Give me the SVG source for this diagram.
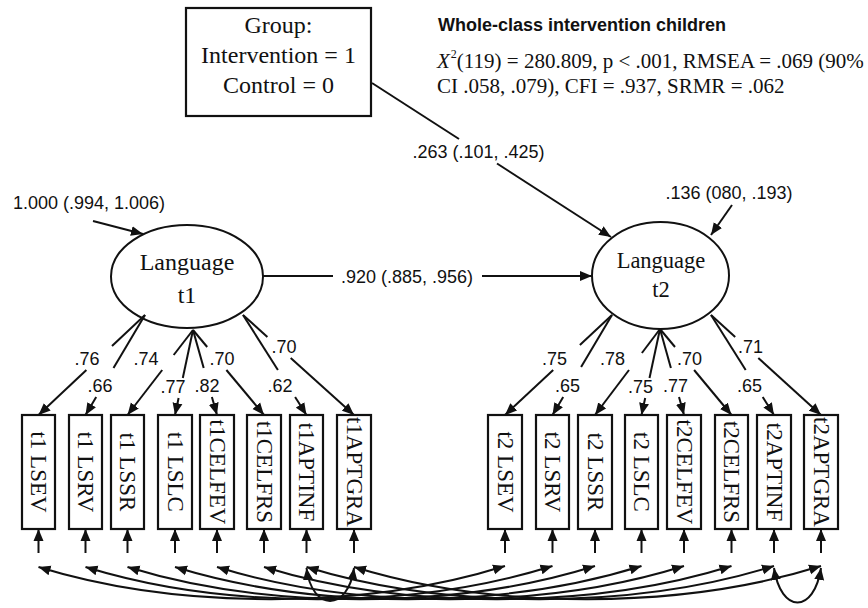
<svg xmlns="http://www.w3.org/2000/svg" width="868" height="608" viewBox="0 0 868 608">
<defs>
<marker id="ah" markerUnits="userSpaceOnUse" markerWidth="13" markerHeight="11" refX="12" refY="5" orient="auto-start-reverse" viewBox="0 0 13 10">
<path d="M0,0 L12,5 L0,10 z" fill="#111"/>
</marker>
</defs>
<style>
.ln{stroke:#111;stroke-width:2;fill:none}
.ar{stroke:#111;stroke-width:2;fill:none;marker-end:url(#ah)}
.cv{stroke:#111;stroke-width:2;fill:none;marker-start:url(#ah);marker-end:url(#ah)}
.box{fill:#fff;stroke:#111;stroke-width:2.2}
.ser{font-family:"Liberation Serif","Times New Roman",serif;fill:#111}
.san{font-family:"Liberation Sans",Arial,sans-serif;fill:#111;font-size:18px}
.ind{font-family:"Liberation Serif","Times New Roman",serif;fill:#111;font-size:23px;text-anchor:middle}
</style>
<rect width="868" height="608" fill="#fff"/>

<g id="header">
<text class="san" x="438" y="31" font-weight="bold">Whole-class intervention children</text>
<text class="ser" x="437" y="68" font-size="21"><tspan font-style="italic">X</tspan><tspan font-size="12" dx="1" dy="-10">2</tspan><tspan dy="10">(119) = 280.809, p &lt; .001, RMSEA = .069 (90%</tspan></text>
<text class="ser" x="437" y="93" font-size="21">CI .058, .079), CFI = .937, SRMR = .062</text>
</g>

<g id="group">
<rect class="box" x="186" y="8" width="185" height="108"/>
<text class="ser" font-size="24" text-anchor="middle" x="278.5" y="33">Group:</text>
<text class="ser" font-size="24" text-anchor="middle" x="278.5" y="63">Intervention = 1</text>
<text class="ser" font-size="24" text-anchor="middle" x="278.5" y="93">Control = 0</text>
</g>

<g id="lang_t1">
<ellipse cx="187" cy="276.5" rx="76" ry="51.5" fill="#fff" stroke="#111" stroke-width="2"/>
<text class="ser" font-size="24" text-anchor="middle" x="187" y="270">Language</text>
<text class="ser" font-size="24" text-anchor="middle" x="187" y="303">t1</text>
</g>

<g id="lang_t2">
<ellipse cx="660.5" cy="275.5" rx="68.5" ry="53.5" fill="#fff" stroke="#111" stroke-width="2"/>
<text class="ser" font-size="22.5" text-anchor="middle" x="661" y="268">Language</text>
<text class="ser" font-size="22.5" text-anchor="middle" x="661" y="297">t2</text>
</g>

<g id="indicators_t1">
<g id="t1LSEV"><rect class="box" x="22" y="415" width="33" height="114"/><text class="ind" transform="translate(31,472) rotate(90)">t1 LSEV</text></g>
<g id="t1LSRV"><rect class="box" x="69" y="415" width="33" height="114"/><text class="ind" transform="translate(78,472) rotate(90)">t1 LSRV</text></g>
<g id="t1LSSR"><rect class="box" x="111" y="415" width="33" height="114"/><text class="ind" transform="translate(120,472) rotate(90)">t1 LSSR</text></g>
<g id="t1LSLC"><rect class="box" x="158" y="415" width="34" height="114"/><text class="ind" transform="translate(167.5,472) rotate(90)">t1 LSLC</text></g>
<g id="t1CELFEV"><rect class="box" x="200" y="415" width="34" height="114"/><text class="ind" transform="translate(209.5,472) rotate(90)">t1CELFEV</text></g>
<g id="t1CELFRS"><rect class="box" x="247" y="415" width="34" height="114"/><text class="ind" transform="translate(256.5,472) rotate(90)">t1CELFRS</text></g>
<g id="t1APTINF"><rect class="box" x="290" y="415" width="33" height="114"/><text class="ind" transform="translate(299,472) rotate(90)">t1APTINF</text></g>
<g id="t1APTGRA"><rect class="box" x="337" y="415" width="34" height="114"/><text class="ind" transform="translate(346.5,472) rotate(90)">t1APTGRA</text></g>
</g>

<g id="indicators_t2">
<g id="t2LSEV"><rect class="box" x="488" y="415" width="34" height="114"/><text class="ind" transform="translate(497.5,472) rotate(90)">t2 LSEV</text></g>
<g id="t2LSRV"><rect class="box" x="536" y="415" width="33" height="114"/><text class="ind" transform="translate(545,472) rotate(90)">t2 LSRV</text></g>
<g id="t2LSSR"><rect class="box" x="578" y="415" width="34" height="114"/><text class="ind" transform="translate(587.5,472) rotate(90)">t2 LSSR</text></g>
<g id="t2LSLC"><rect class="box" x="625" y="415" width="33" height="114"/><text class="ind" transform="translate(634,472) rotate(90)">t2 LSLC</text></g>
<g id="t2CELFEV"><rect class="box" x="667" y="415" width="34" height="114"/><text class="ind" transform="translate(676.5,472) rotate(90)">t2CELFEV</text></g>
<g id="t2CELFRS"><rect class="box" x="715" y="415" width="33" height="114"/><text class="ind" transform="translate(724,472) rotate(90)">t2CELFRS</text></g>
<g id="t2APTINF"><rect class="box" x="757" y="415" width="34" height="114"/><text class="ind" transform="translate(766.5,472) rotate(90)">t2APTINF</text></g>
<g id="t2APTGRA"><rect class="box" x="804" y="415" width="34" height="114"/><text class="ind" transform="translate(813.5,472) rotate(90)">t2APTGRA</text></g>
</g>

<g id="connectors">
<path class="ln" d="M372,83 L459,139"/>
<path class="ar" d="M497,163.5 L611,237"/>
<path class="ln" d="M263,276 L333,276"/>
<path class="ar" d="M482,276 L592,276"/>
<path class="ar" d="M93,221 L143,234"/>
<path class="ar" d="M732,205 L711,235"/>
<path class="ln" d="M145,315 L112,346"/><path class="ar" d="M86.4,370 L38.5,415"/>
<path class="ln" d="M145,315 L113.5,368"/><path class="ar" d="M96.2,397 L85.5,415"/>
<path class="ln" d="M193,330 L173.7,355"/><path class="ar" d="M162.2,370 L127.5,415"/>
<path class="ln" d="M193,330 L182.8,378"/><path class="ar" d="M178.6,398 L175,415"/>
<path class="ln" d="M193,330 L203.7,368"/><path class="ar" d="M211.9,397 L217,415"/>
<path class="ln" d="M193,330 L207.2,347"/><path class="ar" d="M226.4,370 L264,415"/>
<path class="ln" d="M243,315 L277.9,370"/><path class="ar" d="M295.1,397 L306.5,415"/>
<path class="ln" d="M243,315 L267.4,337"/><path class="ar" d="M290.7,358 L354,415"/>
<path class="ln" d="M612,315 L579.9,345"/><path class="ar" d="M553.2,370 L505,415"/>
<path class="ln" d="M612,315 L581.1,367"/><path class="ar" d="M563.2,397 L552.5,415"/>
<path class="ln" d="M660,329 L641.9,353"/><path class="ar" d="M629,370 L595,415"/>
<path class="ln" d="M660,329 L649.5,378"/><path class="ar" d="M645.2,398 L641.5,415"/>
<path class="ln" d="M660,329 L670.9,368"/><path class="ar" d="M679,397 L684,415"/>
<path class="ln" d="M660,329 L675,347"/><path class="ar" d="M694.1,370 L731.5,415"/>
<path class="ln" d="M711,315 L745.7,370"/><path class="ar" d="M762.7,397 L774,415"/>
<path class="ln" d="M711,315 L735.2,337"/><path class="ar" d="M758.3,358 L821,415"/>
<path class="ar" d="M38.5,553 L38.5,529"/>
<path class="ar" d="M85.5,553 L85.5,529"/>
<path class="ar" d="M127.5,553 L127.5,529"/>
<path class="ar" d="M175,553 L175,529"/>
<path class="ar" d="M217,553 L217,529"/>
<path class="ar" d="M264,553 L264,529"/>
<path class="ar" d="M306.5,553 L306.5,529"/>
<path class="ar" d="M354,553 L354,529"/>
<path class="ar" d="M505,553 L505,529"/>
<path class="ar" d="M552.5,553 L552.5,529"/>
<path class="ar" d="M595,553 L595,529"/>
<path class="ar" d="M641.5,553 L641.5,529"/>
<path class="ar" d="M684,553 L684,529"/>
<path class="ar" d="M731.5,553 L731.5,529"/>
<path class="ar" d="M774,553 L774,529"/>
<path class="ar" d="M821,553 L821,529"/>
<path class="cv" d="M38.5,567 C178,610 365,610 505,566"/>
<path class="cv" d="M85.5,567 C225,610 412,610 552.5,566"/>
<path class="cv" d="M127.5,567 C267,610 455,610 595,566"/>
<path class="cv" d="M175,567 C315,610 501,610 641.5,566"/>
<path class="cv" d="M217,567 C357,610 544,610 684,566"/>
<path class="cv" d="M264,567 C404,610 591,610 731.5,566"/>
<path class="cv" d="M306.5,567 C446,610 634,610 774,566"/>
<path class="cv" d="M354,567 C494,610 681,610 821,566"/>
<path class="cv" d="M306.5,568 C312,612 348,612 354,568"/>
<path class="cv" d="M774,568 C781,614 814,614 821,568"/>
</g>

<g id="labels">
<text class="san" text-anchor="middle" x="478.5" y="158">.263 (.101, .425)</text>
<text class="san" text-anchor="middle" x="407" y="282.5">.920 (.885, .956)</text>
<text class="san" text-anchor="middle" x="89" y="209">1.000 (.994, 1.006)</text>
<text class="san" text-anchor="middle" x="729" y="199">.136 (080, .193)</text>
<text class="san" text-anchor="middle" x="87" y="365">.76</text>
<text class="san" text-anchor="middle" x="100" y="392">.66</text>
<text class="san" text-anchor="middle" x="146" y="365">.74</text>
<text class="san" text-anchor="middle" x="173" y="393">.77</text>
<text class="san" text-anchor="middle" x="207" y="392">.82</text>
<text class="san" text-anchor="middle" x="222" y="365">.70</text>
<text class="san" text-anchor="middle" x="280" y="392">.62</text>
<text class="san" text-anchor="middle" x="284" y="353">.70</text>
<text class="san" text-anchor="middle" x="554.5" y="365">.75</text>
<text class="san" text-anchor="middle" x="567.5" y="392">.65</text>
<text class="san" text-anchor="middle" x="612.5" y="365">.78</text>
<text class="san" text-anchor="middle" x="640.5" y="393">.75</text>
<text class="san" text-anchor="middle" x="675.5" y="392">.77</text>
<text class="san" text-anchor="middle" x="689.5" y="365">.70</text>
<text class="san" text-anchor="middle" x="749.5" y="392">.65</text>
<text class="san" text-anchor="middle" x="750.5" y="353">.71</text>
</g>
</svg>
